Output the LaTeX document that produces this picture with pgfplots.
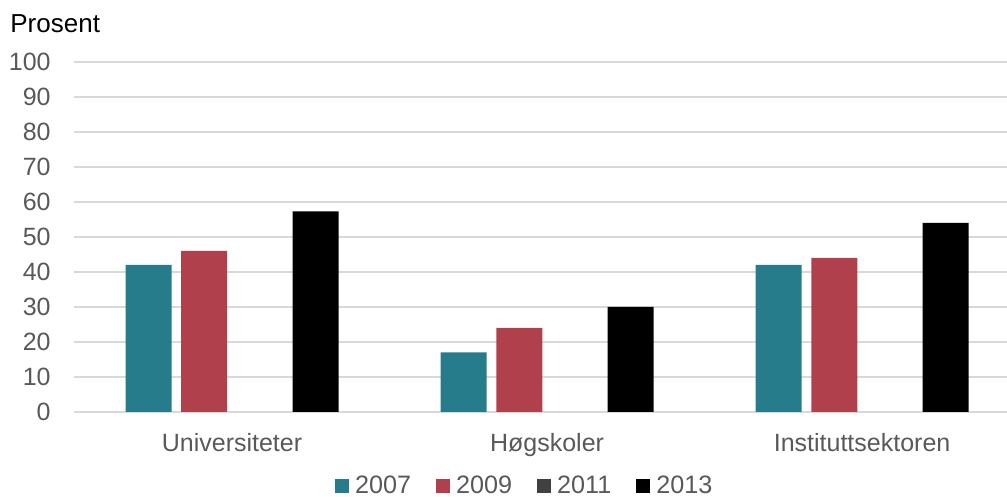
\documentclass[border=0pt]{standalone}
\usepackage{fontspec}
\setmainfont{Liberation Sans}
\usepackage{pgfplots}
\pgfplotsset{compat=1.18}
\definecolor{cteal}{RGB}{38,124,139}
\definecolor{cred}{RGB}{176,64,76}
\definecolor{cdark}{RGB}{64,64,64}
\definecolor{cgrid}{RGB}{217,217,217}
\definecolor{ctext}{RGB}{89,89,89}
\begin{document}
\begin{tikzpicture}
\begin{axis}[name=ax, scale only axis, width=466.25pt, height=175pt,
  xmin=-0.5, xmax=2.46, ymin=0, ymax=100,
  ytick={0,10,...,100}, xtick={0,1,2},
  xticklabels={Universiteter,Høgskoler,Instituttsektoren},
  ymajorgrids, major grid style={cgrid, line width=1pt},
  axis line style={draw=none}, tick style={draw=none}, major tick length=0pt,
  /pgf/number format/assume math mode=true,
  yticklabel style={font=\fontsize{12.5}{15}\selectfont, text=ctext, anchor=east, inner sep=0pt, xshift=-11.75pt},
  xticklabel style={font=\fontsize{12.5}{15}\selectfont, text=ctext, anchor=north, inner sep=0pt, yshift=-10.3pt},
  legend columns=4,
  legend image code/.code={\fill[#1] (0pt,-3.5pt) rectangle (7pt,3.5pt);},
  legend style={at={(axis description cs:0.2794,-0.2123)}, anchor=west, draw=none, fill=none,
    inner sep=0pt, outer sep=0pt,
    font=\fontsize{12.6}{15}\selectfont, text=ctext,
    nodes={inner sep=0pt},
    /tikz/every odd column/.append style={column sep=3pt},
    /tikz/every even column/.append style={column sep=12.5pt}},
  legend cell align=left,
]
\addplot[ybar, bar width=23pt, bar shift=-41.75pt, fill=cteal, draw=none] coordinates {(0,42) (1,17) (2,42)};
\addlegendentry{2007}
\addplot[ybar, bar width=23pt, bar shift=-13.9pt, fill=cred, draw=none] coordinates {(0,46) (1,24) (2,44)};
\addlegendentry{2009}
\addlegendimage{fill=cdark, draw=none}
\addlegendentry{2011}
\addplot[ybar, bar width=23pt, bar shift=41.75pt, fill=black, draw=none] coordinates {(0,57.3) (1,30) (2,54)};
\addlegendentry{2013}
\end{axis}
\node[anchor=base west, inner sep=0pt, font=\fontsize{13}{15}\selectfont] at ([shift={(-32.25pt,14.5pt)}]ax.north west) {Prosent};
\pgfresetboundingbox
\useasboundingbox ([shift={(-37.25pt,-42.5pt)}]ax.south west) rectangle ([shift={(0pt,31pt)}]ax.north east);
\end{tikzpicture}
\end{document}
